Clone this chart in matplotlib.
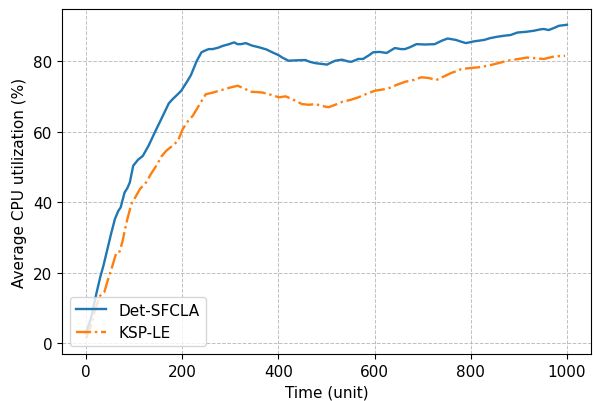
import numpy as np
import matplotlib
matplotlib.use("Agg")
import matplotlib.pyplot as plt

# values
det_t = [0, 10, 22, 30, 36, 45, 52, 60, 67, 72, 80, 86, 91, 98, 108, 118, 130, 142,
         153, 165, 172, 180, 190, 198, 211, 218, 230, 240, 246, 255, 263, 275, 284,
         295, 308, 315, 322, 332, 345, 360, 375, 387, 400, 408, 421, 435, 456, 465,
         477, 490, 501, 510, 518, 532, 545, 552, 566, 576, 590, 597, 610, 625, 642,
         655, 663, 673, 687, 705, 725, 740, 752, 769, 780, 790, 807, 828, 840, 855,
         870, 883, 897, 915, 931, 945, 952, 962, 975, 983, 1000]
det_cpu = [2.8, 7.0, 14.4, 19.0, 21.9, 27.0, 31.0, 35.2, 37.5, 38.5, 42.7, 44.0, 45.6,
           50.3, 52.0, 53.1, 56.0, 59.5, 62.6, 66.0, 68.0, 69.2, 70.5, 71.6, 74.4, 76.0,
           80.0, 82.5, 82.9, 83.4, 83.4, 83.8, 84.3, 84.7, 85.3, 84.8, 84.8, 85.1, 84.4,
           83.9, 83.3, 82.5, 81.7, 81.0, 80.1, 80.2, 80.3, 79.8, 79.4, 79.2, 79.0, 79.6,
           80.1, 80.4, 79.9, 79.8, 80.6, 80.6, 81.8, 82.5, 82.6, 82.3, 83.7, 83.4, 83.4,
           83.9, 84.8, 84.7, 84.8, 85.8, 86.4, 86.0, 85.5, 85.1, 85.6, 86.0, 86.5, 86.9,
           87.2, 87.4, 88.1, 88.3, 88.6, 89.0, 89.1, 88.8, 89.5, 90.0, 90.3]

ksp_t = [0, 10, 20, 29, 38, 46, 55, 63, 70, 76, 84, 94, 103, 112, 125, 135, 146, 157,
         167, 180, 191, 201, 212, 222, 235, 249, 262, 277, 290, 300, 315, 328, 342,
         355, 366, 380, 391, 401, 415, 430, 449, 463, 477, 490, 504, 518, 532, 550,
         566, 585, 601, 615, 628, 645, 663, 680, 697, 713, 728, 745, 759, 780, 797,
         814, 828, 842, 860, 876, 895, 917, 935, 952, 973, 996]
ksp_cpu = [1.35, 5.0, 10.0, 13.4, 14.5, 18.2, 22.0, 25.7, 26.0, 29.0, 34.2, 39.4, 41.5,
           43.7, 45.6, 48.0, 50.3, 53.0, 54.6, 56.0, 57.4, 60.7, 63.0, 64.5, 67.5, 70.6,
           71.0, 71.6, 72.1, 72.5, 73.0, 72.3, 71.3, 71.2, 71.1, 70.6, 70.2, 69.7, 70.0,
           69.1, 67.8, 67.6, 67.8, 67.3, 66.9, 67.6, 68.4, 69.0, 69.7, 70.8, 71.6, 71.9,
           72.2, 73.2, 74.1, 74.6, 75.4, 75.2, 74.6, 75.7, 76.6, 77.7, 78.0, 78.2, 78.5,
           78.9, 79.5, 80.1, 80.5, 81.0, 80.8, 80.6, 81.3, 81.5]

plt.rcParams['font.size'] = 11

fig = plt.figure(figsize=(5.93, 4.02), dpi=100)
ax = fig.add_axes([0.1046, 0.1169, 0.892, 0.858])
ax.plot(det_t, det_cpu, color="tab:blue", linestyle="-", linewidth=1.7, label="Det-SFCLA")
ax.plot(ksp_t, ksp_cpu, color="tab:orange", linestyle="-.", linewidth=1.7, label="KSP-LE")
ax.grid(True, linestyle="--", color="#b0b0b0", linewidth=0.7, alpha=0.8)
ax.set_xlabel("Time (unit)")
ax.set_ylabel("Average CPU utilization (%)")
ax.set_xticks([0, 200, 400, 600, 800, 1000])
ax.set_yticks([0, 20, 40, 60, 80])
ax.legend(loc="lower left")
fig.savefig("out.png", dpi=100)
